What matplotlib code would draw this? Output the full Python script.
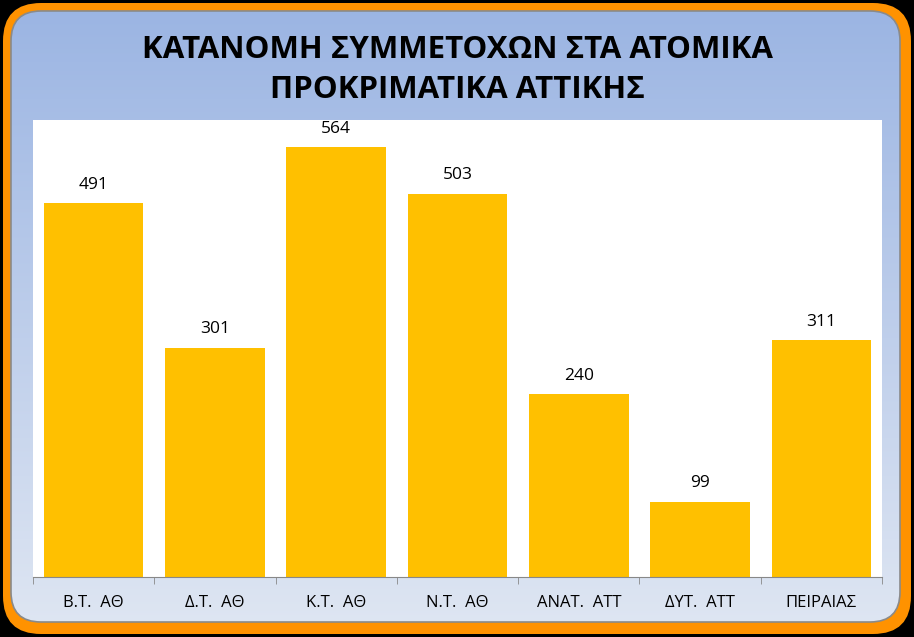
import numpy as np
import matplotlib.pyplot as plt
from matplotlib.patches import FancyBboxPatch

categories = ['Β.Τ.  ΑΘ', 'Δ.Τ.  ΑΘ', 'Κ.Τ.  ΑΘ', 'Ν.Τ.  ΑΘ', 'ΑΝΑΤ.  ΑΤΤ', 'ΔΥΤ.  ΑΤΤ', 'ΠΕΙΡΑΙΑΣ']
values = [491, 301, 564, 503, 240, 99, 311]
title = 'ΚΑΤΑΝΟΜΗ ΣΥΜΜΕΤΟΧΩΝ ΣΤΑ ΑΤΟΜΙΚΑ\nΠΡΟΚΡΙΜΑΤΙΚΑ ΑΤΤΙΚΗΣ'

plt.rcParams['font.family'] = ['Open Sans', 'DejaVu Sans']

W, H = 914, 637
fig = plt.figure(figsize=(W / 100, H / 100), dpi=100)
fig.patch.set_facecolor('black')

# background frame in pixel coords
bg = fig.add_axes([0, 0, 1, 1])
bg.set_xlim(0, W)
bg.set_ylim(H, 0)
bg.axis('off')
outer = FancyBboxPatch((3, 3), 908, 631, boxstyle='round,pad=0,rounding_size=38',
                       facecolor='#FF9200', edgecolor='none')
bg.add_patch(outer)
inner = FancyBboxPatch((11, 11), 889, 611, boxstyle='round,pad=0,rounding_size=30',
                       facecolor='none', edgecolor='#8a8a8a', linewidth=1.2, zorder=3)
bg.add_patch(inner)
grad = np.linspace(0, 1, 256).reshape(-1, 1)
top = np.array([0.61, 0.71, 0.89])
bot = np.array([0.87, 0.90, 0.95])
img = top + (bot - top) * grad[..., None]
im = bg.imshow(img, extent=(11, 900, 622, 11), aspect='auto', zorder=2)
im.set_clip_path(inner)

fig.text(0.5, 1 - 70 / H, title, ha='center', va='center', fontsize=22.5,
         fontweight='bold', linespacing=1.42)

ax = fig.add_axes([33 / W, (H - 577) / H, 849 / W, 457 / H])
ax.set_facecolor('white')
x = np.arange(len(categories))
bars = ax.bar(x, values, width=0.82, color='#FFC000', zorder=2)
ax.set_xlim(-0.5, len(categories) - 0.5)
ax.set_ylim(0, 600)
for b, v in zip(bars, values):
    ax.annotate(str(v), (b.get_x() + b.get_width() / 2, v), xytext=(0, 7.5),
                textcoords='offset points', ha='center', va='bottom', fontsize=12.5)
ax.set_yticks([])
ax.set_xticks(x)
ax.set_xticklabels(categories, fontsize=12)
ax.set_xticks(np.arange(-0.5, len(categories)), minor=True)
ax.tick_params(axis='x', which='major', length=0, pad=13)
ax.tick_params(axis='x', which='minor', length=5, color='#888888')
for s in ['top', 'right', 'left']:
    ax.spines[s].set_visible(False)
ax.spines['bottom'].set_color('#888888')

fig.savefig('out.png', dpi=100, facecolor=fig.get_facecolor())
